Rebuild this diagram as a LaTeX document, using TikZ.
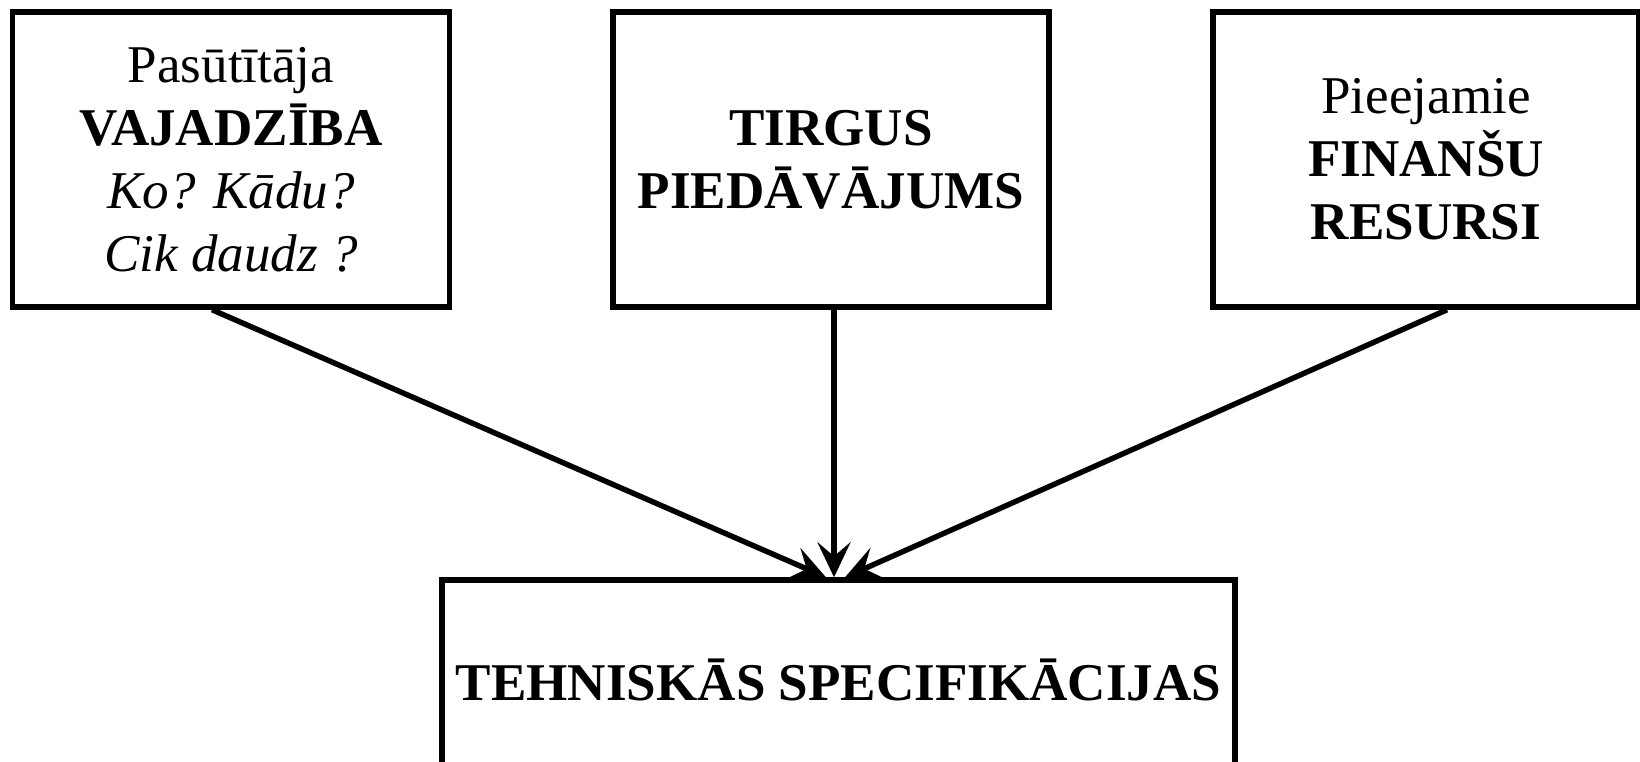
\documentclass[tikz,border=0pt]{standalone}
\usepackage{fontspec}
\setmainfont{Liberation Serif}
\usepackage{tikz}
\usetikzlibrary{arrows.meta,positioning,calc}

\begin{document}
\begin{tikzpicture}[
          blk/.style={rectangle, draw, line width=1.55pt, align=center, inner sep=2pt, font=\fontsize{15.1}{17.9}\selectfont},
          arr/.style={line width=1.55pt, -{Stealth[length=3.5mm, width=3.3mm, inset=1.4mm]}}
        ]
          \useasboundingbox (0,0) rectangle (16.4,7.61);
          \clip (0,0) rectangle (16.4,7.61);
          \node[blk, minimum width=4.375cm, minimum height=2.95cm] (need) at (2.31,6.015) {Pasūtītāja\\\textbf{VAJADZĪBA}\\\textit{Ko? Kādu?}\\\textit{Cik daudz ?}};
          \node[blk, minimum width=4.36cm, minimum height=2.95cm] (market) at (8.31,6.015) {\textbf{TIRGUS}\\\textbf{PIEDĀVĀJUMS}};
          \node[blk, minimum width=4.26cm, minimum height=2.95cm] (finance) at (14.26,6.015) {Pieejamie\\\textbf{FINANŠU}\\\textbf{RESURSI}};
          \node[blk, minimum width=7.93cm, minimum height=2.0cm] (spec) at (8.385,0.81) {\textbf{TEHNISKĀS SPECIFIKĀCIJAS}};
          % arrows into the specification
          \draw[arr] ([xshift=-0.19cm]need.south) -- ([xshift=-0.125cm]spec.north);
          \draw[arr] ([xshift=0.03cm]market.south) -- ([xshift=0.03cm]market.south |- spec.north);
          \draw[arr] ([xshift=0.21cm]finance.south) -- ([xshift=0.065cm]spec.north);
        \end{tikzpicture}
\end{document}
